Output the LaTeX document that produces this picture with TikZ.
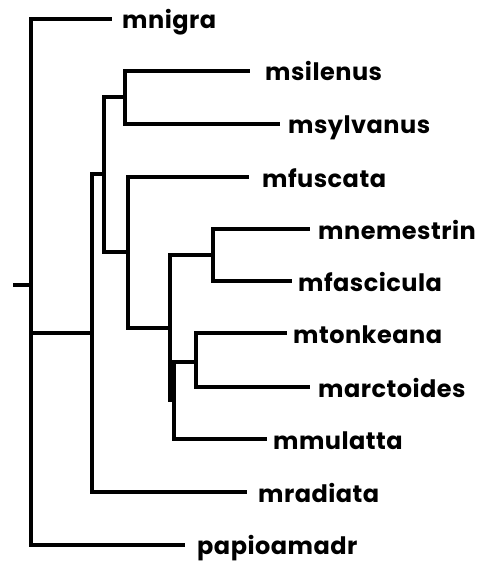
\documentclass[tikz,border=0pt]{standalone}
\usepackage{fontspec}
\setmainfont{Poppins}[LetterSpace=2]
\begin{document}
\begin{tikzpicture}[x=1pt,y=-1pt,
  br/.style={line width=3.3pt,line cap=rect},
  leaf/.style={anchor=base west,inner sep=0pt,font=\fontsize{24}{24}\selectfont\bfseries}]
\useasboundingbox (0,0) rectangle (485,561);
% internal node coordinates (vertical bars)
\coordinate (stub) at (15,285);
\coordinate (root) at (31,285);
\coordinate (n1) at (92,333);
\coordinate (n2) at (104,174);
\coordinate (n3) at (125,97);
\coordinate (n4) at (128,252);
\coordinate (n5) at (170,328);
\coordinate (n6) at (213,255);
\coordinate (n7) at (196,362);
% leaf ends
\coordinate (Lnigra) at (110,19);
\coordinate (Lsilenus) at (248,71);
\coordinate (Lsylvanus) at (278,124);
\coordinate (Lfuscata) at (247,177);
\coordinate (Lnemestrin) at (308,229);
\coordinate (Lfascicula) at (290,281);
\coordinate (Ltonkeana) at (285,333);
\coordinate (Larctoides) at (308,387);
\coordinate (Lmulatta) at (265,439);
\coordinate (Lradiata) at (245,492);
\coordinate (Lpapio) at (183,545);
% labels
\node[leaf] (tnigra) at (122,29) {mnigra};
\node[leaf] (tsilenus) at (265,81) {msilenus};
\node[leaf] (tsylvanus) at (288,134) {msylvanus};
\node[leaf] (tfuscata) at (262,187) {mfuscata};
\node[leaf] (tnemestrin) at (318,239) {mnemestrin};
\node[leaf] (tfascicula) at (298,291) {mfascicula};
\node[leaf] (ttonkeana) at (293,343) {mtonkeana};
\node[leaf] (tarctoides) at (318,397) {marctoides};
\node[leaf] (tmulatta) at (273,449) {mmulatta};
\node[leaf] (tradiata) at (258,502) {mradiata};
\node[leaf] (tpapio) at (197,554) {papioamadr};
% branches
\draw[br] (stub) -- (root);
\draw[br] (root) |- (Lnigra);
\draw[br] (root) |- (Lpapio);
\draw[br] (31,333) -- (n1);
\draw[br] (n1) |- (Lradiata);
\draw[br] (n1) |- (n2);
\draw[br] (n2) |- (n3);
\draw[br] (n2) |- (n4);
\draw[br] (n3) |- (Lsilenus);
\draw[br] (n3) |- (Lsylvanus);
\draw[br] (n4) |- (Lfuscata);
\draw[br] (n4) |- (n5);
\draw[br] (n5) -- (170,400);
\draw[br] (n5) |- (n6);
\draw[br] (174,362) -- (174,439);
\draw[br] (174,362) -- (n7);
\draw[br] (n6) |- (Lnemestrin);
\draw[br] (n6) |- (Lfascicula);
\draw[br] (n7) |- (Ltonkeana);
\draw[br] (n7) |- (Larctoides);
\draw[br] (174,439) -- (Lmulatta);
\end{tikzpicture}
\end{document}
